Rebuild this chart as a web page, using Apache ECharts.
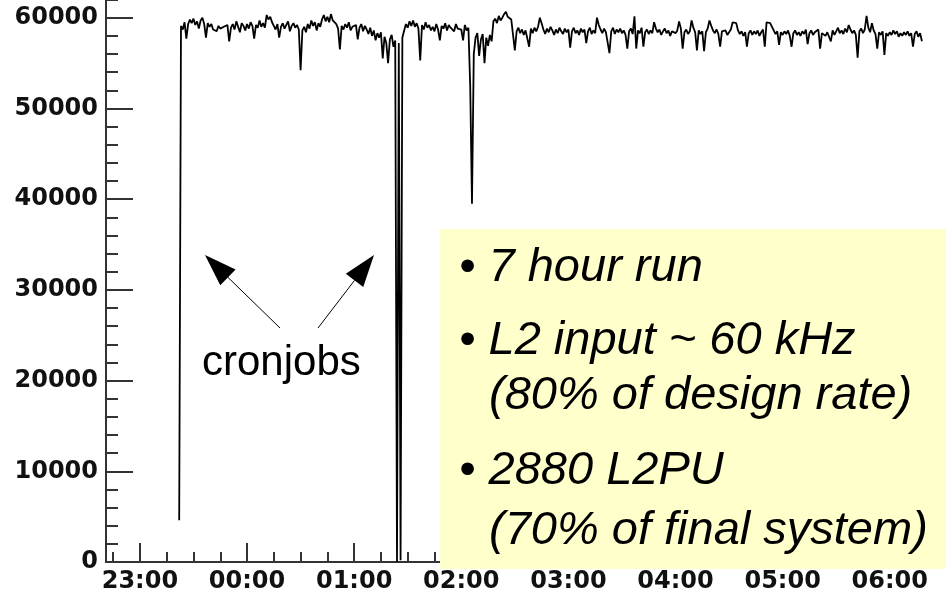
<!DOCTYPE html>
<html><head><meta charset="utf-8">
<script src="https://cdn.jsdelivr.net/npm/echarts@6/dist/echarts.min.js"></script>
<style>html,body{margin:0;padding:0;background:#fff}#c{width:946px;height:593px}</style>
</head><body><div id="c"></div>
<script>
// time in minutes after 23:00; each segment starts at the given minute, one value per minute
const segStartMin = [22, 60, 120, 180, 240, 300, 360, 420];
const v23 = [4600, 59100, 58700, 59500, 57700, 59300, 59800, 59400, 59900, 59200, 59600, 58800, 59700, 60000, 59300, 57800, 59400, 59000, 59300, 58700, 58900, 58500, 59100, 58800, 58600, 59000, 58800, 59200, 57400, 58900, 59300, 58700, 59600, 59000, 58400, 59400, 59100, 58600];
const v00 = [59300, 58800, 59500, 59100, 57700, 59200, 58900, 59700, 59000, 59400,
  58900, 60300, 59800, 60100, 59500, 59100, 58700, 59300, 57800, 59000,
  59400, 58800, 59200, 59600, 58500, 59100, 59400, 58900, 59200, 58700,
  54200, 58600, 59000, 58400, 59300, 58800, 59700, 59100, 59500, 58600,
  59400, 59000, 59800, 60300, 59600, 60100, 59500, 60400, 59700, 59900,
  59300, 58800, 56500, 59100, 58700, 59300, 58900, 59500, 58600, 59000];
const v01 = [58800, 59200, 57600, 58900, 59300, 58500, 59100, 58700, 58200, 58900,
  58000, 58600, 57500, 58300, 57800, 58400, 55500, 57900, 57200, 55000,
  57600, 58100, 56800, 57500, 0, 57200, 200, 57800, 58600, 59300,
  58900, 59600, 59100, 59700, 59000, 59400, 58800, 55300, 59200, 58700,
  59500, 58900, 59200, 58600, 59000, 58500, 59300, 58700, 57500, 59100,
  58800, 59400, 58600, 59200, 58900, 59100, 58500, 59300, 58800, 59000];
const v02 = [58700, 57500, 59200, 58600, 58900, 52500, 39500, 56000, 57800, 58300,
  55800, 57600, 58200, 55000, 57800, 56900, 58100, 57400, 59600, 59900,
  59400, 60200, 59700, 60000, 60400, 60650, 60100, 60300, 59800, 60000,
  56400, 58500, 58900, 58300, 58700, 58100, 58600, 58400, 56800, 58800,
  58300, 58900, 58500, 59000, 60000, 59400, 58700, 58200, 58800, 58400,
  59000, 58600, 58100, 58700, 58300, 58900, 58500, 58200, 58800, 58400];
const v03 = [58700, 56700, 58500, 58900, 58300, 58600, 58100, 58800, 58400, 58700,
  57200, 58500, 58900, 58200, 58600, 58300, 60000, 59200, 58700, 58300,
  58800, 58400, 58600, 56100, 58500, 58900, 58200, 58700, 58400, 58800,
  58300, 58600, 58100, 56600, 58500, 58800, 58200, 60150, 56600, 58600,
  58300, 58900, 56800, 58400, 58700, 58200, 58600, 58300, 59500, 58800,
  58400, 58700, 58100, 58500, 58800, 58300, 58600, 58000, 58500, 58700];
const v04 = [58300, 58600, 59600, 58800, 56600, 58400, 58700, 58200, 58500, 59700,
  58900, 58400, 56400, 58600, 58200, 58500, 56300, 58400, 58800, 59700,
  59100, 58600, 58300, 58700, 58200, 56800, 58500, 58300, 58600, 58100,
  58400, 58700, 59500, 59300, 59400, 58600, 58200, 58500, 58000, 58400,
  56800, 58300, 58600, 58100, 58500, 58200, 58600, 58000, 58400, 58700,
  56800, 59500, 59600, 59400, 59300, 58600, 58200, 58500, 57000, 58400];
const v05 = [58100, 58500, 58200, 58600, 58000, 56800, 58300, 58600, 58100, 58400,
  58000, 58500, 58200, 58700, 57100, 58300, 58600, 58100, 58400, 58200,
  58700, 56600, 58300, 58500, 58000, 58400, 58200, 57400, 58600, 58100,
  58500, 58900, 58300, 58600, 58200, 58800, 58400, 59200, 58700, 58300,
  58600, 58100, 55600, 58500, 58800, 58300, 58700, 60200, 58900, 58400,
  59400, 58600, 58200, 56600, 58400, 58100, 58500, 55900, 58300, 58000];
const v06 = [58400, 58100, 58600, 58200, 58500, 57900, 58300, 58000, 58400, 58100, 58500, 58000, 58300, 56800, 58200, 58500, 57900, 58300, 57400];

const hourTicks = [0, 60, 120, 180, 240, 300, 360, 420];
const hourLabels = ['23:00', '00:00', '01:00', '02:00', '03:00', '04:00', '05:00', '06:00'];
const noteLines = ['\u2022 7 hour run', '\u2022 L2 input ~ 60 kHz', '(80% of design rate)', '\u2022 2880 L2PU', '(70% of final system)'];
const annotationText = 'cronjobs';

const segValues = [v23, v00, v01, v02, v03, v04, v05, v06];
const data = [];
segValues.forEach((arr, k) => arr.forEach((v, i) => data.push([segStartMin[k] + i, v])));

const quarterTicks = [];
for (let m = -15; m <= 450; m += 15) quarterTicks.push(m);

const axisColor = '#333';
const labelFont = {fontFamily: 'DejaVu Sans', fontWeight: 'bold', fontSize: 24, color: '#111'};

function arrow(tail, tip) {
  const len = 32, hw = 11;
  const dx = tip[0] - tail[0], dy = tip[1] - tail[1];
  const d = Math.hypot(dx, dy), ux = dx / d, uy = dy / d;
  const bx = tip[0] - ux * len, by = tip[1] - uy * len;
  const px = -uy, py = ux;
  return [
    {type: 'line', z: 100, shape: {x1: tail[0], y1: tail[1], x2: bx, y2: by}, style: {stroke: '#000', lineWidth: 1}},
    {type: 'polygon', z: 100, shape: {points: [tip, [bx + px * hw, by + py * hw], [bx - px * hw, by - py * hw]]}, style: {fill: '#000'}}
  ];
}

const noteX = [459, 459, 489, 459, 489];
const noteY = [268, 341, 396, 471, 531];
const graphics = [
  {type: 'rect', z: 90, shape: {x: 440, y: 229, width: 506, height: 340}, style: {fill: '#FFFFCC'}},
  {type: 'text', z: 100, x: 202, y: 363, style: {text: annotationText, font: '42px "Liberation Sans", Arial, sans-serif', fill: '#000', textAlign: 'left', textVerticalAlign: 'middle'}}
].concat(arrow([280, 328], [205, 255]), arrow([318, 328], [374, 255]));
noteLines.forEach((t, i) => graphics.push({
  type: 'text', z: 100, x: noteX[i], y: noteY[i],
  style: {text: t, font: 'italic 47px "Liberation Sans", Arial, sans-serif', fill: '#000', textAlign: 'left', textVerticalAlign: 'middle'}
}));

const chart = echarts.init(document.getElementById('c'), null, {renderer: 'canvas'});
chart.setOption({
  animation: false,
  backgroundColor: '#fff',
  grid: {left: 106, right: 0, top: -73, bottom: 31, containLabel: false, outerBoundsMode: 'none'},
  xAxis: [{
    type: 'value', min: -19, max: 451.5,
    axisLine: {show: true, onZero: false, lineStyle: {color: axisColor, width: 2}},
    axisTick: {show: true, inside: true, length: 19, customValues: hourTicks, lineStyle: {color: axisColor, width: 2}},
    axisLabel: Object.assign({show: true, margin: 8, customValues: hourTicks,
      formatter: v => { const i = hourTicks.indexOf(v); return i >= 0 ? hourLabels[i] : ''; }}, labelFont),
    splitLine: {show: false}
  }, {
    type: 'value', min: -19, max: 451.5, position: 'bottom',
    axisLine: {show: false, onZero: false}, axisLabel: {show: false}, splitLine: {show: false},
    axisTick: {show: true, inside: true, length: 10, customValues: quarterTicks, lineStyle: {color: axisColor, width: 2}}
  }],
  yAxis: {
    type: 'value', min: 0, max: 70000, interval: 10000,
    axisLine: {show: true, onZero: false, lineStyle: {color: axisColor, width: 2}},
    axisTick: {show: true, inside: true, length: 27, lineStyle: {color: axisColor, width: 2}},
    minorTick: {show: true, splitNumber: 5, length: 12, lineStyle: {color: axisColor, width: 2}},
    axisLabel: Object.assign({margin: 8, showMaxLabel: false, padding: [4, 0, 0, 0], formatter: v => String(v)}, labelFont),
    splitLine: {show: false}
  },
  series: [{
    type: 'line', xAxisIndex: 0, yAxisIndex: 0, data: data,
    showSymbol: false, symbol: 'none',
    lineStyle: {color: '#000', width: 1.8}, z: 2
  }],
  graphic: graphics
});
</script>
</body></html>
